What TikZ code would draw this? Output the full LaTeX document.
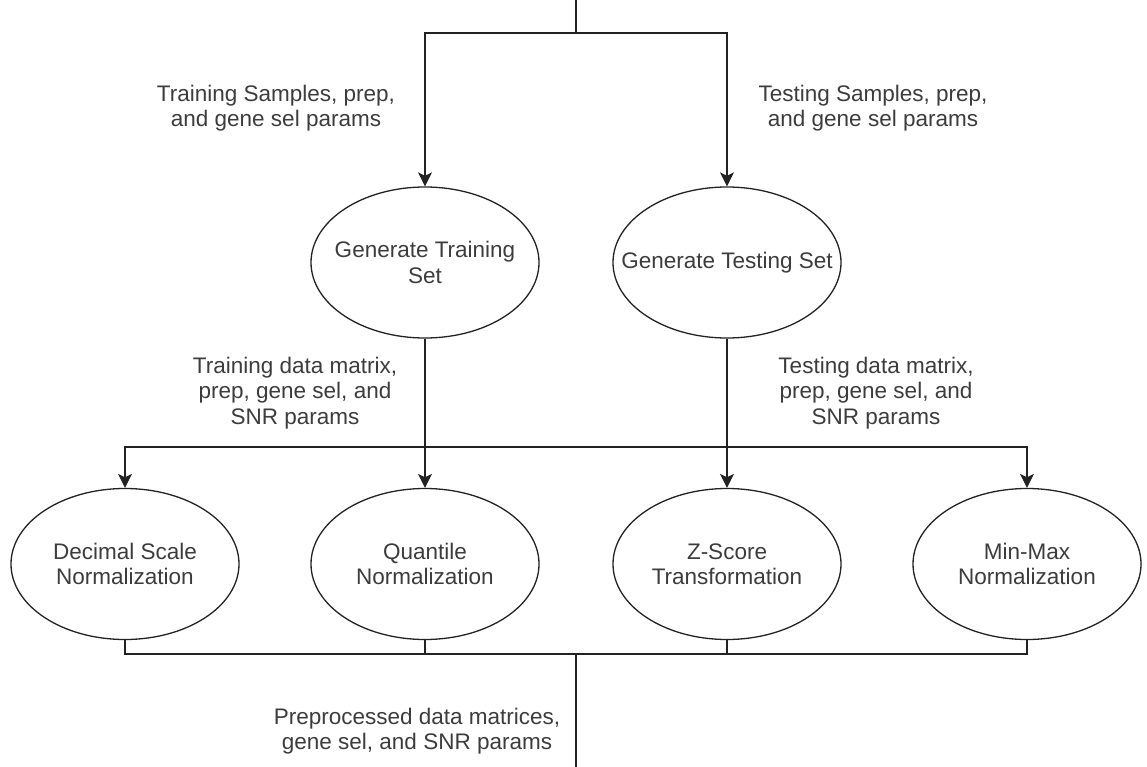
\documentclass[tikz,border=0pt]{standalone}
\usepackage{fontspec}
\setmainfont{Liberation Sans}
\usetikzlibrary{shapes.geometric,arrows.meta}
\definecolor{txt}{HTML}{3C3C3C}
\definecolor{ln}{HTML}{222222}
\begin{document}
\begin{tikzpicture}[x=1pt,y=-1pt,
  proc/.style={ellipse, draw=ln, line width=1.3pt, minimum width=228pt,
    minimum height=151pt, inner xsep=-45pt, inner ysep=0pt, align=center,
    font=\fontsize{22.5}{25.5}\selectfont, text=txt},
  lbl/.style={align=center, inner sep=0pt,
    font=\fontsize{22.5}{25.5}\selectfont, text=txt},
  flow/.style={draw=ln, line width=1.6pt},
  arr/.style={flow, -{Stealth[length=14pt,width=14pt,inset=3.5pt]}}]
\useasboundingbox (0,0) rectangle (1147,767);

% processing steps
\node[proc] (gtrain) at (425,262.5) {Generate Training\\Set};
\node[proc] (gtest)  at (727,262.5) {Generate Testing Set};
\node[proc] (dec)    at (125,564) {Decimal Scale\\Normalization};
\node[proc] (quant)  at (425,564) {Quantile\\Normalization};
\node[proc] (zs)     at (727,564) {Z-Score\\Transformation};
\node[proc] (mm)     at (1027,564) {Min-Max\\Normalization};

% junction points
\coordinate (src)   at (576,0);
\coordinate (split) at (576,33);
\coordinate (bus)   at (576,447);
\coordinate (join)  at (576,654);
\coordinate (sink)  at (576,767);

% input fan-out
\draw[flow] (src) -- (split);
\draw[arr] (split) -| (gtrain.north);
\draw[arr] (split) -| (gtest.north);

% data matrices to the normalization methods
\draw[arr] (gtrain.south) -- (quant.north);
\draw[arr] (gtest.south) -- (zs.north);
\draw[arr] (gtrain.south) |- (bus) -| (mm.north);
\draw[arr] (gtest.south) |- (bus) -| (dec.north);

% merge of the preprocessed outputs
\draw[flow] (dec.south) |- (join);
\draw[flow] (quant.south) |- (join);
\draw[flow] (zs.south) |- (join);
\draw[flow] (mm.south) |- (join);
\draw[flow] (join) -- (sink);

% edge labels
\node[lbl] (l1) at (276,108) {Training Samples, prep,\\and gene sel params};
\node[lbl] (l2) at (873,108) {Testing Samples, prep,\\and gene sel params};
\node[lbl] (l3) at (295,393) {Training data matrix,\\prep, gene sel, and\\SNR params};
\node[lbl] (l4) at (876,393) {Testing data matrix,\\prep, gene sel, and\\SNR params};
\node[lbl] (l5) at (417,731) {Preprocessed data matrices,\\gene sel, and SNR params};
\end{tikzpicture}
\end{document}
